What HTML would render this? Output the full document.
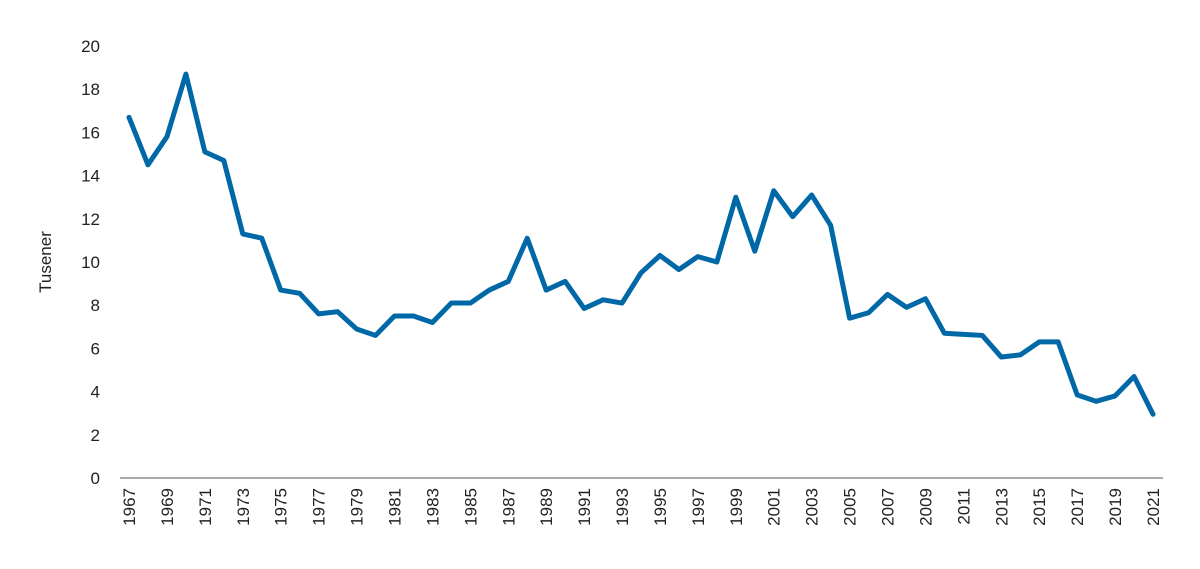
<!DOCTYPE html>
<html><head><meta charset="utf-8"><style>
body{margin:0;background:#fff;}
svg{display:block;font-family:"Liberation Sans",sans-serif;}
</style></head><body>
<svg id="chart" width="1200" height="569"></svg>
<script>
const years=[];for(let y=1967;y<=2021;y++)years.push(y);
const values=[16.7,14.5,15.8,18.7,15.1,14.7,11.3,11.1,8.7,8.55,7.6,7.7,6.9,6.6,7.5,7.5,7.2,8.1,8.1,8.7,9.1,11.1,8.7,9.1,7.85,8.25,8.1,9.5,10.3,9.65,10.25,10.0,13.0,10.5,13.3,12.1,13.1,11.7,7.4,7.65,8.5,7.9,8.3,6.7,6.65,6.6,5.6,5.7,6.3,6.3,3.85,3.55,3.8,4.7,2.95];
const yTicks=[0,2,4,6,8,10,12,14,16,18,20];
const NS="http://www.w3.org/2000/svg";
const svg=document.getElementById('chart');
const x=y=>129+(y-1967)*(1153-129)/54;
const yS=v=>478-v*21.6;
function mk(t,a,txt){const e=document.createElementNS(NS,t);for(const k in a)e.setAttribute(k,a[k]);if(txt!==undefined)e.textContent=txt;svg.appendChild(e);return e;}
yTicks.forEach(t=>{
const e=mk('text',{x:100,y:yS(t)+6,'text-anchor':'end','font-size':17,fill:'#222'},t);


});
const ax=mk('line',{x1:120,x2:1163,y1:478,y2:478,stroke:'#555','stroke-width':1});


years.forEach(yr=>{
if((yr-1967)%2)return;
const e=mk('text',{transform:`translate(${x(yr)+6},488) rotate(-90)`,'text-anchor':'end','font-size':17,fill:'#222'},yr);


});
const t=mk('text',{transform:'translate(51,262) rotate(-90)','text-anchor':'middle','font-size':17,fill:'#222'},'Tusener');


const p=mk('polyline',{points:values.map((v,i)=>x(years[i])+','+yS(v)).join(' '),fill:'none',stroke:'#0068a6','stroke-width':5,'stroke-linejoin':'round','stroke-linecap':'round'});


</script>
</body></html>
